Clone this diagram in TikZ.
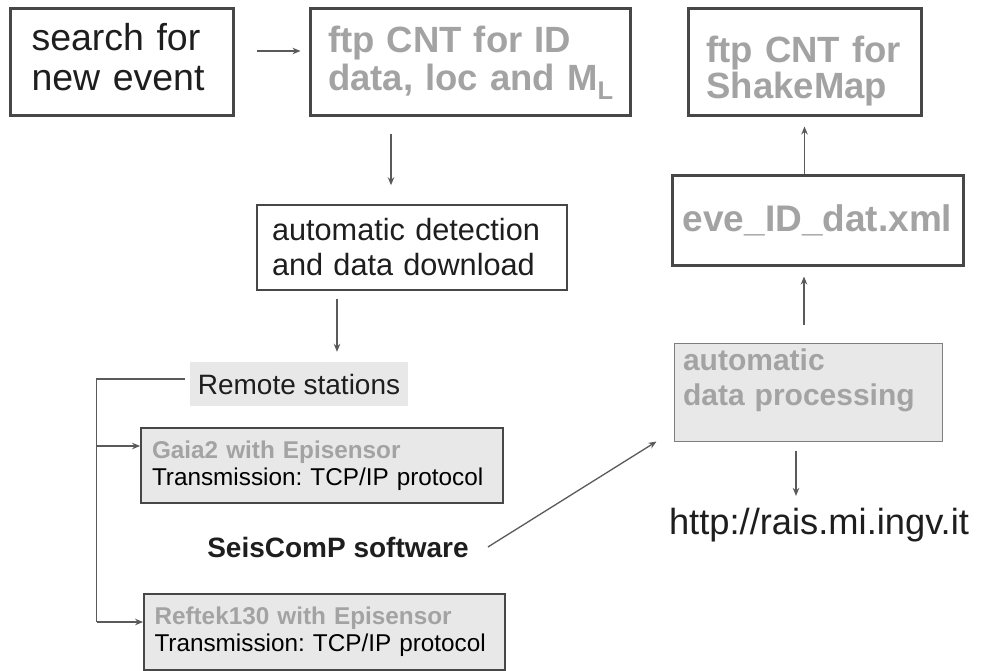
\documentclass[tikz,border=0pt]{standalone}
\usepackage{fontspec}
\setmainfont{Liberation Sans}
\usepackage{xcolor}
\usepackage{tikz}
\usetikzlibrary{arrows.meta,positioning,calc}
\definecolor{edgegray}{HTML}{474747}
\definecolor{labelgray}{HTML}{A3A3A3}
\definecolor{panel}{HTML}{E8E8E8}
\definecolor{inkgray}{HTML}{1E1E1E}
\definecolor{wiregray}{HTML}{5A5A5A}
\frenchspacing

\begin{document}
\begin{tikzpicture}[x=1pt,y=-1pt,
  bigfont/.style={font=\fontsize{36.5}{38}\selectfont},
  heavybox/.style={draw=edgegray,line width=3pt,fill=white,inner sep=0pt,align=left},
  plainbox/.style={draw=edgegray,line width=1.6pt,fill=white,inner sep=0pt,align=left},
  stationbox/.style={draw=edgegray,line width=1.8pt,fill=panel,inner sep=0pt,align=left,
    font=\fontsize{24.3}{27}\selectfont},
  flow/.style={draw=wiregray,line width=1.3pt,-{Stealth[length=8pt,width=6.5pt]}},
  link/.style={draw=wiregray,line width=1.3pt}]
  \useasboundingbox (0,0) rectangle (987,671);
  \fill[white] (0,0) rectangle (987,671);

  % top row
  \node[heavybox,font=\fontsize{37.5}{40}\selectfont,text=inkgray,text width=180pt,
    minimum width=223pt,minimum height=107pt] (search) at (121.5,62.5)
    {search for\\new event\rule[-11pt]{0pt}{11pt}};
  \node[heavybox,bigfont,text=labelgray,text width=284pt,minimum width=320pt,minimum height=107pt]
    (ftpid) at (470,62.5) {\bfseries\mbox{ftp CNT for ID}\\\bfseries\mbox{data, loc and M\textsubscript{L}}};
  \node[heavybox,bigfont,text=labelgray,text width=196pt,minimum width=233pt,minimum height=107pt,
    font=\fontsize{36.5}{36}\selectfont] (ftpsm) at (804.5,62.5)
    {\bfseries\rule{0pt}{44pt}ftp CNT for\\\bfseries ShakeMap};

  % middle
  \node[heavybox,font=\fontsize{37}{40}\selectfont,text=labelgray,minimum width=291pt,
    minimum height=89pt,align=center] (eve) at (817.5,220.5) {\bfseries eve\_ID\_dat.xml};
  \node[plainbox,text=inkgray,font=\fontsize{30.7}{35}\selectfont,text width=280pt,
    minimum width=310pt,minimum height=85pt] (detect) at (412,247.5)
    {automatic detection\\and data download};
  \node[fill=panel,text=inkgray,font=\fontsize{28}{30}\selectfont,minimum width=218pt,
    minimum height=44pt,inner sep=0pt] (remote) at (299,384) {Remote stations};
  \node[draw=edgegray!70,line width=1pt,fill=panel,text=labelgray,inner sep=0pt,align=left,
    font=\fontsize{30}{35}\selectfont\bfseries,text width=250pt,minimum width=268pt,
    minimum height=98pt] (process) at (808,392) {automatic\\data processing\\[-5pt]\mbox{}};

  % stations
  \node[stationbox,text width=340pt,minimum width=362pt,minimum height=75pt]
    (gaia) at (322,465.5)
    {{\bfseries\color{labelgray}Gaia2 with Episensor}\\Transmission: TCP/IP protocol};
  \node[stationbox,text width=340pt,minimum width=361pt,minimum height=76pt]
    (reftek) at (324.5,632)
    {{\bfseries\color{labelgray}Reftek130 with Episensor}\\Transmission: TCP/IP protocol};

  \node[font=\fontsize{28}{30}\selectfont\bfseries,text=inkgray,inner sep=0pt]
    (software) at (338,547) {SeisComP software};
  \node[font=\fontsize{36.3}{40}\selectfont,text=inkgray,inner sep=0pt]
    (url) at (819,525) {http://rais.mi.ingv.it};

  % connectors
  \coordinate (gaiain) at ([yshift=19.5pt]gaia.west);
  \coordinate (reftekin) at ([yshift=10pt]reftek.west);
  \draw[flow] ([xshift=22pt,yshift=11.5pt]search.east) -- ([xshift=-8pt,yshift=11.5pt]ftpid.west);
  \draw[flow,shorten <=17pt,shorten >=19pt] ([xshift=-79pt]ftpid.south) -- ([xshift=-79pt]ftpid.south |- detect.north);
  \draw[flow,shorten <=8pt,shorten >=10pt] ([xshift=-75pt]detect.south) -- ([xshift=-75pt]detect.south |- remote.north);
  \draw[link] ([xshift=-5pt,yshift=5pt]remote.west) -- ++(-88pt,0) coordinate (bus)
    -- (bus |- reftekin);
  \draw[flow] (bus |- gaiain) -- (gaiain);
  \draw[flow] (bus |- reftekin) -- (reftekin);
  \draw[flow] ([xshift=19pt]software.east) -- ([xshift=-17pt]process.south west);
  \draw[flow,shorten <=18pt,shorten >=10pt] ([xshift=-4pt]process.north) -- ([xshift=-4pt]process.north |- eve.south);
  \draw[flow,shorten >=9pt] (ftpsm.south |- eve.north) -- (ftpsm.south);
  \draw[flow,shorten <=9pt,shorten >=12pt] ([xshift=-12pt]process.south) -- ([xshift=-12pt]process.south |- url.north);
\end{tikzpicture}
\end{document}
